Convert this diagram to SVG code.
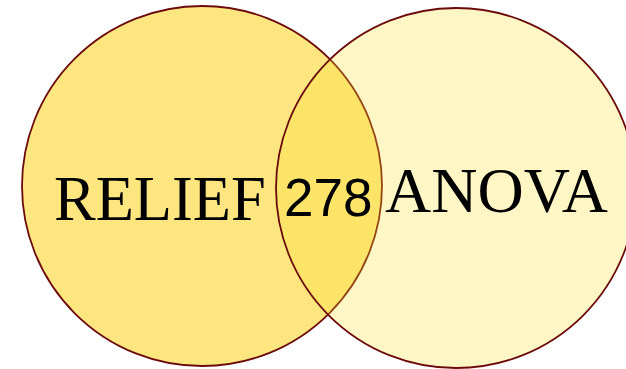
<svg xmlns="http://www.w3.org/2000/svg" width="626" height="369" viewBox="0 0 626 369">
<style>
.set{stroke:#6b0a0a;stroke-width:1.8}
.lbl{font-family:"Liberation Serif","Times New Roman",serif;font-size:64px;fill:#000}
.num{font-family:"Liberation Sans",Arial,sans-serif;font-size:53px;fill:#000}
</style>
<rect width="626" height="369" fill="#ffffff"/>
<g id="relief">
<circle class="set" cx="202" cy="186" r="180" fill="#fde680"/>
</g>
<g id="anova">
<circle class="set" cx="456" cy="188" r="180" fill="#fde030" fill-opacity="0.28"/>
</g>
<g id="labels">
<text class="lbl" x="54" y="220" style="font-size:62.5px">RELIEF</text>
<text class="num" x="284" y="216">278</text>
<text class="lbl" x="385" y="212">ANOVA</text>
</g>
</svg>
